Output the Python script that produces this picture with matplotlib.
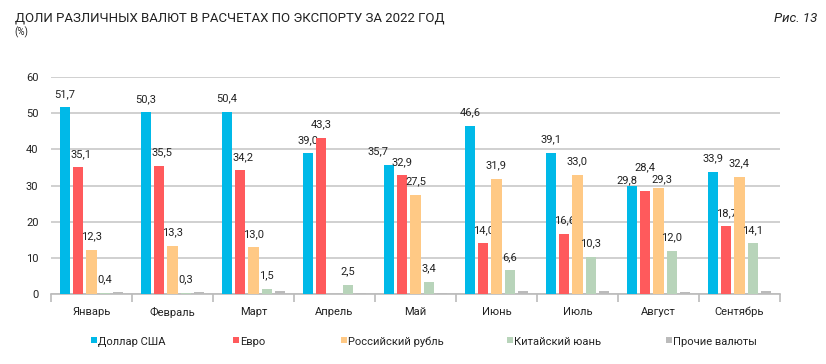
import matplotlib
matplotlib.use("Agg")
import matplotlib.pyplot as plt
import numpy as np

months = ["Январь", "Февраль", "Март", "Апрель", "Май", "Июнь", "Июль", "Август", "Сентябрь"]
series_names = ["Доллар США", "Евро", "Российский рубль", "Китайский юань", "Прочие валюты"]
usd = [51.7, 50.3, 50.4, 39.0, 35.7, 46.6, 39.1, 29.8, 33.9]
eur = [35.1, 35.5, 34.2, 43.3, 32.9, 14.0, 16.6, 28.4, 18.7]
rub = [12.3, 13.3, 13.0, 0.0, 27.5, 31.9, 33.0, 29.3, 32.4]
cny = [0.4, 0.3, 1.5, 2.5, 3.4, 6.6, 10.3, 12.0, 14.1]
other = [0.6, 0.6, 0.9, 0.3, 0.4, 0.8, 0.8, 0.5, 0.8]
labelled = [True, True, True, True, False]
colors = ["#00B9E8", "#FF5A5C", "#FFC985", "#B8D4BA", "#BBBBBB"]

plt.rcParams['font.family'] = ['Roboto', 'DejaVu Sans']

fig = plt.figure(figsize=(8.26, 3.64), dpi=100)
ax = fig.add_axes([0.0617, 0.192, 0.8826, 0.596])

data = [usd, eur, rub, cny, other]
x = np.arange(len(months))
bw = 0.125
step = 0.164
offsets = (np.arange(5) - 2) * step

# label placement tweaks (series index, month index) -> (dx, dy) to avoid overlaps
tweaks = {(0, 7): (-0.06, -2.0), (1, 7): (0.0, 3.0), (2, 7): (0.04, -1.3),
          (0, 4): (-0.14, 0.0), (1, 0): (0.04, 0.0), (1, 1): (0.04, 0.0),
          (1, 2): (0.04, 0.0)}

for i, (vals, c) in enumerate(zip(data, colors)):
    ax.bar(x + offsets[i], vals, width=bw, color=c, zorder=3)
    if labelled[i]:
        for j, (xi, v) in enumerate(zip(x + offsets[i], vals)):
            if v > 0:
                dx, dy = tweaks.get((i, j), (0.0, 0.0))
                ax.text(xi + dx, v + 3.7 + dy, f"{v:.1f}".replace(".", ","),
                        ha="center", va="center", fontsize=8, color="#222222")

ax.set_ylim(0, 60)
ax.set_xlim(-0.5, len(months) - 0.5)
ax.set_yticks(range(0, 61, 10))
ax.tick_params(axis="y", length=0, labelsize=8, colors="#222222", pad=9)
ax.grid(axis="y", color="#C8C8C8", linewidth=1.2, zorder=0)
for s in ["top", "right", "left"]:
    ax.spines[s].set_visible(False)
ax.spines["bottom"].set_color("#BBBBBB")
ax.spines["bottom"].set_linewidth(1.2)
ax.set_xticks(x)
ax.set_xticklabels(months, fontsize=8, color="#222222")
ax.tick_params(axis="x", length=0, pad=9)
ax.set_xticks(np.arange(-0.5, len(months), 1), minor=True)
ax.tick_params(axis="x", which="minor", length=6, color="#BBBBBB", width=1.2)

fig.text(0.018, 0.95, "ДОЛИ РАЗЛИЧНЫХ ВАЛЮТ В РАСЧЕТАХ ПО ЭКСПОРТУ ЗА 2022 ГОД",
         fontsize=9.5, color="#222222", va="center", ha="left")
fig.text(0.018, 0.912, "(%)", fontsize=7, color="#222222", va="center", ha="left")
fig.text(0.99, 0.95, "Рис. 13", fontsize=9.5, style="italic", color="#222222",
         va="center", ha="right")

# legend, manually positioned items
leg_x = [94, 236, 344, 510, 669]
for px, name, c in zip(leg_x, series_names, colors):
    fx = px / 826
    fig.patches.append(plt.Rectangle((fx - 3 / 826, 1 - 343 / 364), 6 / 826, 6 / 364,
                                     transform=fig.transFigure, facecolor=c,
                                     edgecolor="none"))
    fig.text(fx + 4 / 826, 1 - 342 / 364, name, fontsize=8, color="#222222",
             va="center", ha="left")

fig.savefig("out.png", dpi=100)
